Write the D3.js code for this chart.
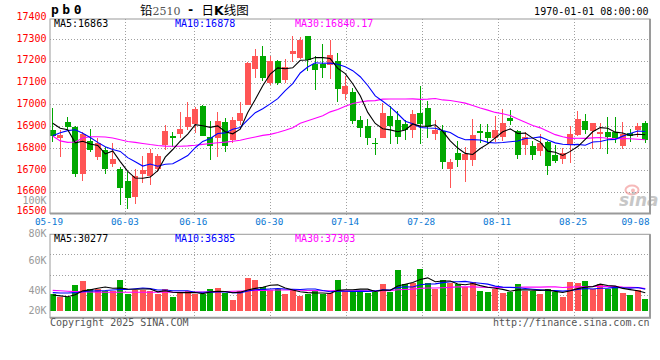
<!DOCTYPE html>
<html><head><meta charset="utf-8">
<script src="https://cdn.jsdelivr.net/npm/d3@7"></script>
<style>
html,body{margin:0;padding:0;background:#fff;}
svg{display:block;}
text{font-family:"DejaVu Sans Mono",monospace;}
</style></head><body>
<svg id="c" width="660" height="360"></svg>
<script>
// ---------- data ----------
const dates = ["05-19","05-20","05-21","05-22","05-23","05-26","05-27","05-28","05-29","05-30",
"06-03","06-04","06-05","06-06","06-09","06-10","06-11","06-12","06-13","06-16",
"06-17","06-18","06-19","06-20","06-23","06-24","06-25","06-26","06-27","06-30",
"07-01","07-02","07-03","07-04","07-07","07-08","07-09","07-10","07-11","07-14",
"07-15","07-16","07-17","07-18","07-21","07-22","07-23","07-24","07-25","07-28",
"07-29","07-30","07-31","08-01","08-04","08-05","08-06","08-07","08-08","08-11",
"08-12","08-13","08-14","08-15","08-18","08-19","08-20","08-21","08-22","08-25",
"08-26","08-27","08-28","08-29","09-01","09-02","09-03","09-04","09-05","09-08"];

const open = [16885,16850,16922,16900,16685,16835,16759,16795,16731,16704,
16652,16576,16682,16673,16704,16815,16855,16868,16899,16911,
16995,16853,16850,16922,16841,16926,16998,17166,17224,17102,
17201,17112,17234,17216,17315,17186,17189,17181,17201,17048,
17059,16929,16902,16826,16850,16949,16929,16911,16887,16963,
16987,16868,16881,16704,16780,16749,16749,16881,16876,16850,
16853,16940,16881,16818,16810,16789,16830,16772,16754,16815,
16864,16926,16881,16868,16877,16875,16810,16871,16887,16917];

const high = [16987,16887,16946,16902,16876,16888,16850,16807,16826,16716,
16693,16705,16765,16798,16774,16907,16877,16968,17013,16990,
16998,16926,16968,16940,16945,17013,17196,17254,17270,17222,
17204,17208,17315,17311,17315,17222,17277,17298,17237,17131,
17075,16948,16937,16850,17009,16993,16972,16929,16978,17087,
17018,16929,16907,16754,16835,16807,16937,16911,16911,16949,
16983,16975,16887,16876,16835,16865,16833,16815,16804,16902,
16972,16960,16917,16917,16943,16945,16922,16891,16917,16926];

const low = [16830,16759,16884,16670,16652,16785,16746,16682,16713,16541,
16525,16548,16644,16632,16693,16792,16805,16850,16887,16871,
16856,16749,16759,16785,16826,16907,16998,17125,17108,17093,
17090,17102,17196,17212,17155,17067,17125,17120,17013,17021,
16910,16853,16818,16769,16850,16820,16820,16841,16850,16820,
16850,16841,16708,16617,16713,16647,16719,16823,16820,16830,
16835,16907,16754,16772,16749,16765,16680,16734,16731,16734,
16856,16865,16800,16800,16775,16825,16800,16830,16853,16826];

const close = [16856,16861,16899,16685,16865,16795,16826,16704,16754,16621,
16571,16673,16701,16780,16766,16881,16849,16890,16945,16980,
16858,16810,16926,16810,16932,16963,17193,17224,17125,17201,
17102,17173,17247,17298,17207,17158,17170,17227,17074,17085,
16926,16896,16846,16820,16963,16902,16853,16887,16957,16914,
16899,16887,16736,16739,16749,16777,16861,16873,16846,16887,
16917,16926,16769,16853,16772,16826,16720,16743,16780,16865,
16936,16887,16915,16875,16852,16846,16868,16859,16901,16841];

const volume = [28100,22500,23600,43300,50000,36500,36500,33200,33200,51700,
28100,34900,34900,33200,28100,36500,23000,32000,33200,28100,
28100,36500,38200,30400,18000,33200,55100,51700,39900,34900,
36500,28100,34900,24700,28100,33200,28100,30400,51700,33200,
33200,33200,30400,32000,45000,32000,68600,45000,46700,70300,
46200,36500,51200,46200,44440,39900,47800,33200,32000,36500,
30400,32000,44500,33200,33200,28100,36500,32000,23600,47800,
46200,49500,36100,44500,36165,41200,30000,26000,34400,19785];

const ma5Head  = [16916,16893,16886,16826];
const ma10Head = [16858,16872,16882,16886,16870,16850,16828,16808,16795];
const ma30Head = [16857,16835,16828,16830,16848,16854,16854,16853,16848,16840,
16832,16828,16823,16818,16814,16811,16810,16810,16812,16815,
16819,16823,16826,16829,16833,16838,16846,16853,16860];
const vma5Head  = [26400,25000,23600,27000];
const vma10Head = [30400,29800,29800,30400,32000,33200,33500,34000,35000];
const vma30Head = [34300,33600,32800,32200,31800,31500,31300,31200,31200,31200,
31200,31200,31200,31200,31200,31200,31200,31200,31200,31300,
31500,31700,32000,32400,32800,33200,33600,34000,34300];

const priceTicks = [17400,17300,17200,17100,17000,16900,16800,16700,16600,16500];
const dateTicks = ["05-19","06-03","06-16","06-30","07-14","07-28","08-11","08-25","09-08"];
const volTickValues = [100000,80000,60000,40000,20000];
const volTickLabels = ["100K","80K","60K","40K","20K"];

// ---------- helpers ----------
function movingAvg(vals, n, head){
  return vals.map((v,i)=> i < n-1 ? head[i] : d3.mean(vals.slice(i-n+1, i+1)));
}
const fmt = v => String(+v.toFixed(2));
const ma5 = movingAvg(close,5,ma5Head), ma10 = movingAvg(close,10,ma10Head), ma30 = movingAvg(close,30,ma30Head);
const vma5 = movingAvg(volume,5,vma5Head), vma10 = movingAvg(volume,10,vma10Head), vma30 = movingAvg(volume,30,vma30Head);
const last = dates.length-1;

const RED="#ff5555", GREEN="#00a800", GRID="#a0a0a0", BORDER="#9a9a9a";
const L=50, R=650, pTop=19, pBot=213.5, vTop=234.3, vBot=317.7;

const svg = d3.select("#c");
const x = d3.scaleBand().domain(dates).range([49,649]).paddingInner(0.2).paddingOuter(0.1);
const cx = d => x(d) + x.bandwidth()/2;
const xGrid = d3.scaleLinear().domain([0,last]).range([L,R]);
const y = d3.scaleLinear().domain([16500,17400]).range([214,17.5]);
const yv = d3.scaleLinear().domain([0,130000]).range([310.7,310.7-130*0.593]);
const yvLab = d3.scaleLinear().domain([40000,100000]).range([290.7,200.7]);
const vGrid = d3.scaleLinear().domain([0,4]).range([vTop,vTop+4*20.4]);

const g = svg.append("g");

// grid lines
const gridIdx = dateTicks.map(t=>dates.indexOf(t)).filter(i=>i>0 && i<last);
g.selectAll(".pg").data(priceTicks.slice(1,-1)).join("line")
  .attr("x1",L).attr("x2",R).attr("y1",d=>y(d)).attr("y2",d=>y(d))
  .attr("stroke",GRID).attr("stroke-dasharray","1,2").attr("shape-rendering","crispEdges");
g.selectAll(".pv").data(gridIdx).join("line")
  .attr("x1",d=>xGrid(d)).attr("x2",d=>xGrid(d)).attr("y1",pTop).attr("y2",pBot+3)
  .attr("stroke",GRID).attr("stroke-dasharray","1,2").attr("shape-rendering","crispEdges");
g.selectAll(".vg").data([1,2,3]).join("line")
  .attr("x1",L).attr("x2",R).attr("y1",d=>vGrid(d)).attr("y2",d=>vGrid(d))
  .attr("stroke",GRID).attr("stroke-dasharray","1,2").attr("shape-rendering","crispEdges");
g.selectAll(".vv").data(gridIdx).join("line")
  .attr("x1",d=>xGrid(d)).attr("x2",d=>xGrid(d)).attr("y1",vTop).attr("y2",vBot+3)
  .attr("stroke",GRID).attr("stroke-dasharray","1,2").attr("shape-rendering","crispEdges");

// candles
const idx = d3.range(dates.length);
const col = i => close[i] >= open[i] ? RED : GREEN;
const cg = g.append("g").attr("shape-rendering","crispEdges");
cg.selectAll(".w").data(idx).join("line")
  .attr("x1",i=>cx(dates[i])).attr("x2",i=>cx(dates[i]))
  .attr("y1",i=>y(high[i])).attr("y2",i=>y(low[i]))
  .attr("stroke",col).attr("stroke-width",1);
cg.selectAll(".b").data(idx).join("rect")
  .attr("x",i=>x(dates[i])).attr("width",x.bandwidth())
  .attr("y",i=>y(Math.max(open[i],close[i])))
  .attr("height",i=>Math.max(1.2,Math.abs(y(open[i])-y(close[i]))))
  .attr("fill",col);

// volume bars
cg.selectAll(".vb").data(idx).join("rect")
  .attr("x",i=>x(dates[i])).attr("width",x.bandwidth())
  .attr("y",i=>yv(volume[i])).attr("height",i=>yv(0)-yv(volume[i]))
  .attr("fill",col);

// MA lines
const pl = d3.line().x((d,i)=>cx(dates[i])).y(d=>y(d));
const vl = d3.line().x((d,i)=>cx(dates[i])).y(d=>yv(d));
[[ma30,"#ff00ff"],[ma10,"#0000ff"],[ma5,"#000000"]].forEach(([s,c])=>{
  g.append("path").attr("d",pl(s)).attr("fill","none").attr("stroke",c).attr("stroke-width",1.1);
});
[[vma30,"#ff00ff"],[vma10,"#0000ff"],[vma5,"#000000"]].forEach(([s,c])=>{
  g.append("path").attr("d",vl(s)).attr("fill","none").attr("stroke",c).attr("stroke-width",1.1);
});

// borders
[[pTop,pBot],[vTop,vBot]].forEach(([t,b])=>{
  g.append("rect").attr("x",L).attr("y",t).attr("width",R-L).attr("height",b-t)
   .attr("fill","none").attr("stroke",BORDER).attr("stroke-width",1);
  g.append("line").attr("x1",R).attr("x2",R).attr("y1",t).attr("y2",b)
   .attr("stroke",BORDER).attr("stroke-width",2);
  g.append("line").attr("x1",L).attr("x2",R+1).attr("y1",b).attr("y2",b)
   .attr("stroke",BORDER).attr("stroke-width",2);
});

// sina watermark
const wm = g.append("g").attr("opacity",0.55);
wm.append("ellipse").attr("cx",632).attr("cy",190).attr("rx",6.5).attr("ry",4.5)
  .attr("fill","none").attr("stroke","#f08080").attr("stroke-width",2);
wm.append("circle").attr("cx",633).attr("cy",190.5).attr("r",2).attr("fill","#f08080");
wm.append("text").attr("x",619).attr("y",206).text("sina")
  .style("font-family","DejaVu Sans").style("font-style","italic").style("font-weight","bold")
  .style("font-size","17px").attr("fill","#9a9a9a");

// axis labels (bottom price label held inside the panel so it clears the date row)
g.selectAll(".yl").data(priceTicks).join("text")
  .attr("x",46.5).attr("y",d=>Math.min(y(d)+2.3,pBot+0.8)).attr("text-anchor","end")
  .style("font-size","10px").attr("fill","#ff0000").text(d=>d);
// volume labels: top one sits just under the date row, bottom one is held inside the panel
g.selectAll(".vl").data(volTickValues).join("text")
  .attr("x",46.5).attr("y",d=>{const p=yvLab(d); return (p>220 && p<236 ? Math.max(p,233.4) : Math.min(p,310.3))+3.6;})
  .attr("text-anchor","end")
  .style("font-size","10px").attr("fill","#999999").text((d,i)=>volTickLabels[i]);
g.selectAll(".xl").data(dateTicks).join("text")
  .attr("x",d=>xGrid(dates.indexOf(d)))
  .attr("y",225.4)
  .attr("text-anchor",d=>dates.indexOf(d)===last?"end":"middle")
  .attr("dx",d=>dates.indexOf(d)===last?-0.5:-1)
  .style("font-size","9.3px").attr("fill","#0a78d4").text(d=>d);

// legends
const legend = (yb, vals, fmtf) => {
  const items = [["MA5:",vals[0],"#000000",54],["MA10:",vals[1],"#0000ff",175],["MA30:",vals[2],"#ff00ff",295]];
  g.selectAll(null).data(items).join("text")
    .attr("x",d=>d[3]).attr("y",yb).style("font-size","10px").attr("fill",d=>d[2])
    .text(d=>d[0]+fmtf(d[1]));
};
legend(27.3,[ma5[last],ma10[last],ma30[last]],fmt);
legend(241.7,[vma5[last],vma10[last],vma30[last]],fmt);

// header
g.append("text").attr("x",51).attr("y",14).style("font-size","13px").style("font-weight","bold")
  .style("letter-spacing","3.5px").attr("fill","#000").text("pb0");
const t1 = g.append("text").attr("x",140).attr("y",14.5).style("font-size","12.5px")
  .style("font-family","'Noto Sans CJK SC',sans-serif").attr("fill","#000");
t1.append("tspan").text("铅");
t1.append("tspan").style("font-family","'DejaVu Serif',serif").style("font-size","11px").attr("fill","#555").text("2510");
g.append("text").attr("x",190.5).attr("y",14).attr("text-anchor","middle").style("font-size","12px")
  .style("font-weight","bold").attr("fill","#000").text("-");
const t2 = g.append("text").attr("x",201.5).attr("y",14.5).style("font-size","12.5px")
  .style("font-family","'Noto Sans CJK SC',sans-serif").attr("fill","#000");
t2.append("tspan").text("日");
t2.append("tspan").style("font-weight","bold").style("font-family","'DejaVu Sans',sans-serif").text("K");
t2.append("tspan").text("线图");
g.append("text").attr("x",648.5).attr("y",15.3).attr("text-anchor","end").style("font-size","10px")
  .attr("fill","#000").text("1970-01-01 08:00:00");

// footer
g.append("text").attr("x",50).attr("y",326).style("font-size","10px").attr("fill","#555").text("Copyright 2025 SINA.COM");
g.append("text").attr("x",649.5).attr("y",326).attr("text-anchor","end").style("font-size","10px").attr("fill","#555").text("http://finance.sina.com.cn");
</script>
</body></html>
